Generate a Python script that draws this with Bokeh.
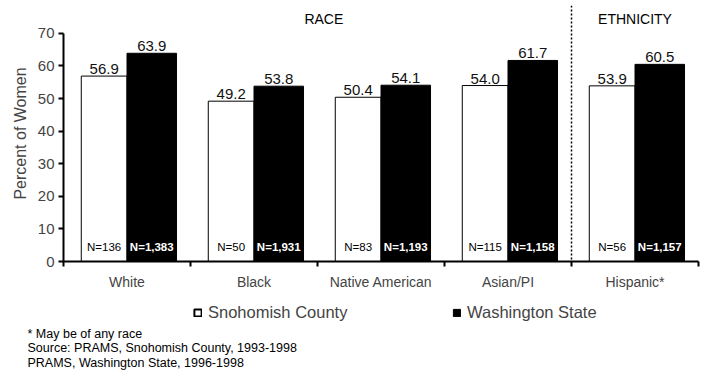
from bokeh.plotting import figure
from bokeh.layouts import column
from bokeh.models import ColumnDataSource, FixedTicker, Span, Label, Legend, LegendItem
from bokeh.core.properties import value
from bokeh.embed import file_html
from bokeh.resources import INLINE

FONT = "Liberation Sans"

# Data
categories = ["White", "Black", "Native American", "Asian/PI", "Hispanic*"]
snohomish = [56.9, 49.2, 50.4, 54.0, 53.9]
washington = [63.9, 53.8, 54.1, 61.7, 60.5]
snohomish_n = ["N=136", "N=50", "N=83", "N=115", "N=56"]
washington_n = ["N=1,383", "N=1,931", "N=1,193", "N=1,158", "N=1,157"]
y_ticks = [0, 10, 20, 30, 40, 50, 60, 70]
race_groups = ["White", "Black", "Native American", "Asian/PI"]
ethnicity_groups = ["Hispanic*"]
series_names = ["Snohomish County", "Washington State"]
footnotes = [
    "* May be of any race",
    "Source: PRAMS, Snohomish County, 1993-1998",
    "PRAMS, Washington State, 1996-1998",
]

n = len(categories)
centers = [i + 0.5 for i in range(n)]
white_w, black_w = 0.36, 0.39
white_x = [c - white_w / 2 for c in centers]
black_x = [c + black_w / 2 for c in centers]
n_label_y = 4.3

src_s = ColumnDataSource(dict(x=white_x, top=snohomish,
                              lbl=[f"{v:.1f}" for v in snohomish],
                              nlbl=snohomish_n, ny=[n_label_y] * n))
src_w = ColumnDataSource(dict(x=black_x, top=washington,
                              lbl=[f"{v:.1f}" for v in washington],
                              nlbl=washington_n, ny=[n_label_y] * n))

# ---- main chart ----
p = figure(width=701, height=292, x_range=(0, n), y_range=(0, 78.56),
           output_backend="svg", toolbar_location=None,
           min_border_left=63, min_border_right=3, min_border_top=5,
           min_border_bottom=30)
p.frame_align = False
p.outline_line_color = None
p.xgrid.visible = False
p.ygrid.visible = False

white_style = dict(fill_color="white", line_color="black", line_width=1)
black_style = dict(fill_color="black", line_color="black", line_width=1)
p.vbar(x="x", top="top", width=white_w, source=src_s, **white_style)
p.vbar(x="x", top="top", width=black_w, source=src_w, **black_style)

# value labels above bars
for src in (src_s, src_w):
    p.text(x="x", y="top", text="lbl", source=src, text_align="center",
           text_baseline="alphabetic", y_offset=-7,
           text_font=value(FONT), text_font_size="15px", text_color="#111111")

# sample sizes inside bars
p.text(x="x", y="ny", text="nlbl", source=src_s, text_align="center",
       text_baseline="middle", text_font=value(FONT),
       text_font_size="11.5px", text_color="black")
p.text(x="x", y="ny", text="nlbl", source=src_w, text_align="center",
       text_baseline="middle", text_font=value(FONT), text_font_style="bold",
       text_font_size="11.5px", text_color="white")

# y axis
ya = p.yaxis[0]
ya.ticker = FixedTicker(ticks=y_ticks)
ya.bounds = (0, 70)
ya.axis_line_width = 2
ya.major_tick_line_width = 2
ya.major_tick_out = 5
ya.major_tick_in = 0
ya.minor_tick_line_color = None
ya.major_label_text_font = FONT
ya.major_label_text_font_size = "15px"
ya.major_label_standoff = 4
ya.axis_label = "Percent of Women"
ya.axis_label_text_font = FONT
ya.axis_label_text_font_size = "16px"
ya.axis_label_text_font_style = "normal"
ya.axis_label_standoff = 6

# x axis: category names at centres, tick marks at group boundaries
xa = p.xaxis[0]
xa.ticker = FixedTicker(ticks=centers, minor_ticks=list(range(n + 1)))
xa.major_label_overrides = {c: name for c, name in zip(centers, categories)}
xa.axis_line_width = 2
xa.major_tick_line_color = None
xa.major_tick_out = 5
xa.major_tick_in = 0
xa.minor_tick_line_color = "black"
xa.minor_tick_line_width = 2
xa.minor_tick_out = 5
xa.minor_tick_in = 0
xa.major_label_text_font = FONT
xa.major_label_text_font_size = "14px"
xa.major_label_standoff = 7

# race / ethnicity divider and headings
divider = categories.index(ethnicity_groups[0])
p.add_layout(Span(location=divider, dimension="height", line_color="black",
                  line_width=1.5, line_dash="2 2"))
race_mid = len(race_groups) / 2 + 0.05
eth_mid = divider + len(ethnicity_groups) / 2
for txt, xm in (("RACE", race_mid), ("ETHNICITY", eth_mid)):
    p.add_layout(Label(x=xm, y=74.3, text=txt, text_align="center",
                       text_baseline="middle", text_font=FONT,
                       text_font_size="14px", text_color="black"))

# ---- legend and footnotes strip (pixel coordinates, y grows downward) ----
q = figure(width=701, height=80, x_range=(0, 701), y_range=(80, 0),
           output_backend="svg", toolbar_location=None,
           x_axis_type=None, y_axis_type=None,
           min_border_left=0, min_border_right=0, min_border_top=0,
           min_border_bottom=0)
q.frame_align = False
q.outline_line_color = None
q.xgrid.visible = False
q.ygrid.visible = False

# hidden copies of the bar series, used only as legend keys
key_s = q.vbar(x="x", top="top", width=white_w, source=src_s, visible=False,
               fill_color="white", line_color="black", line_width=2)
key_w = q.vbar(x="x", top="top", width=black_w, source=src_w, visible=False,
               **black_style)
for name, r, vx in ((series_names[0], key_s, 193), (series_names[1], key_w, 452)):
    lg = Legend(items=[LegendItem(label=name, renderers=[r])],
                location=(vx, 50), padding=0, margin=0, glyph_width=9,
                glyph_height=9, label_standoff=6, border_line_color=None,
                background_fill_alpha=0, label_text_font=FONT,
                label_text_font_size="16.5px", label_height=20)
    q.add_layout(lg)

for i, t in enumerate(footnotes):
    q.add_layout(Label(x=27, y=41 + 14.5 * i, text=t, text_baseline="middle",
                       text_font=FONT, text_font_size="12.5px",
                       text_color="black"))

layout = column(p, q, spacing=0)
open("out.html", "w").write(file_html(layout, INLINE))
